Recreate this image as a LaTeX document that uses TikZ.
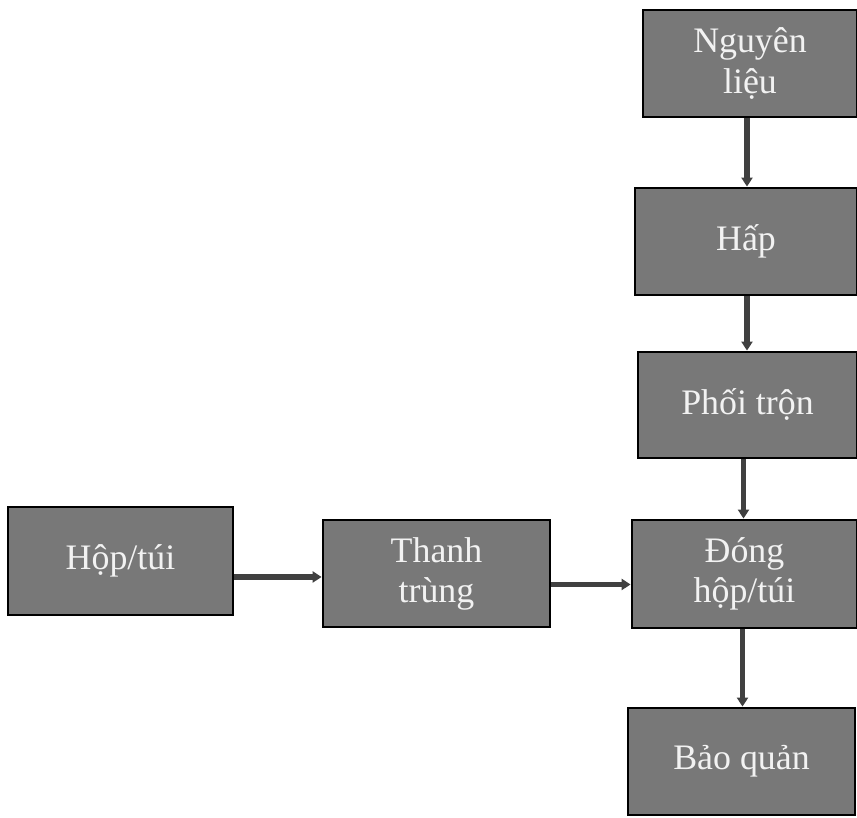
\documentclass[tikz,border=0pt]{standalone}
\usepackage{fontspec}
\setmainfont{Liberation Serif}
\usepackage{tikz}
\usetikzlibrary{arrows.meta, positioning, calc}
\definecolor{boxGray}{gray}{0.47}
\definecolor{lineGray}{gray}{0.25}
\definecolor{textWhite}{gray}{0.95}

\begin{document}
\begin{tikzpicture}[
    step box/.style={draw=black, line width=0.8pt, fill=boxGray, text=textWhite,
        align=center, inner sep=0pt, font=\fontsize{10.2}{11.4}\selectfont},
    flow/.style={lineGray, line width=1.5pt, -{Triangle[width=1.1mm, length=0.9mm]}}
]
    \useasboundingbox (0,0) rectangle (8.57,8.18);

    \node[step box, minimum width=2.14cm, minimum height=1.07cm] (nguyen) at (7.50,7.545) {Nguyên\\liệu};
    \node[step box, minimum width=2.22cm, minimum height=1.07cm] (hap) at (7.46,5.765) {Hấp};
    \node[step box, minimum width=2.19cm, minimum height=1.06cm] (phoi) at (7.475,4.13) {Phối trộn};
    \node[step box, minimum width=2.25cm, minimum height=1.08cm] (dong) at (7.445,2.44) {Đóng\\hộp/túi};
    \node[step box, minimum width=2.27cm, minimum height=1.07cm] (bao) at (7.415,0.565) {Bảo quản};
    \node[step box, minimum width=2.25cm, minimum height=1.08cm] (hop) at (1.205,2.57) {Hộp/túi};
    \node[step box, minimum width=2.27cm, minimum height=1.07cm] (thanh) at (4.365,2.445) {Thanh\\trùng};

    \draw[flow] ([xshift=-0.3mm]nguyen.south) -- ([xshift=-0.3mm]nguyen.south |- hap.north);
    \draw[flow] ([xshift=0.1mm]hap.south) -- ([xshift=0.1mm]hap.south |- phoi.north);
    \draw[flow] ([xshift=-0.4mm]phoi.south) -- ([xshift=-0.4mm]phoi.south |- dong.north);
    \draw[flow] ([xshift=-0.2mm]dong.south) -- ([xshift=-0.2mm]dong.south |- bao.north);
    \draw[flow] ([yshift=-1.6mm]hop.east) -- ([yshift=-1.6mm]hop.east -| thanh.west);
    \draw[flow] ([yshift=-1.1mm]thanh.east) -- ([yshift=-1.1mm]thanh.east -| dong.west);
\end{tikzpicture}
\end{document}
